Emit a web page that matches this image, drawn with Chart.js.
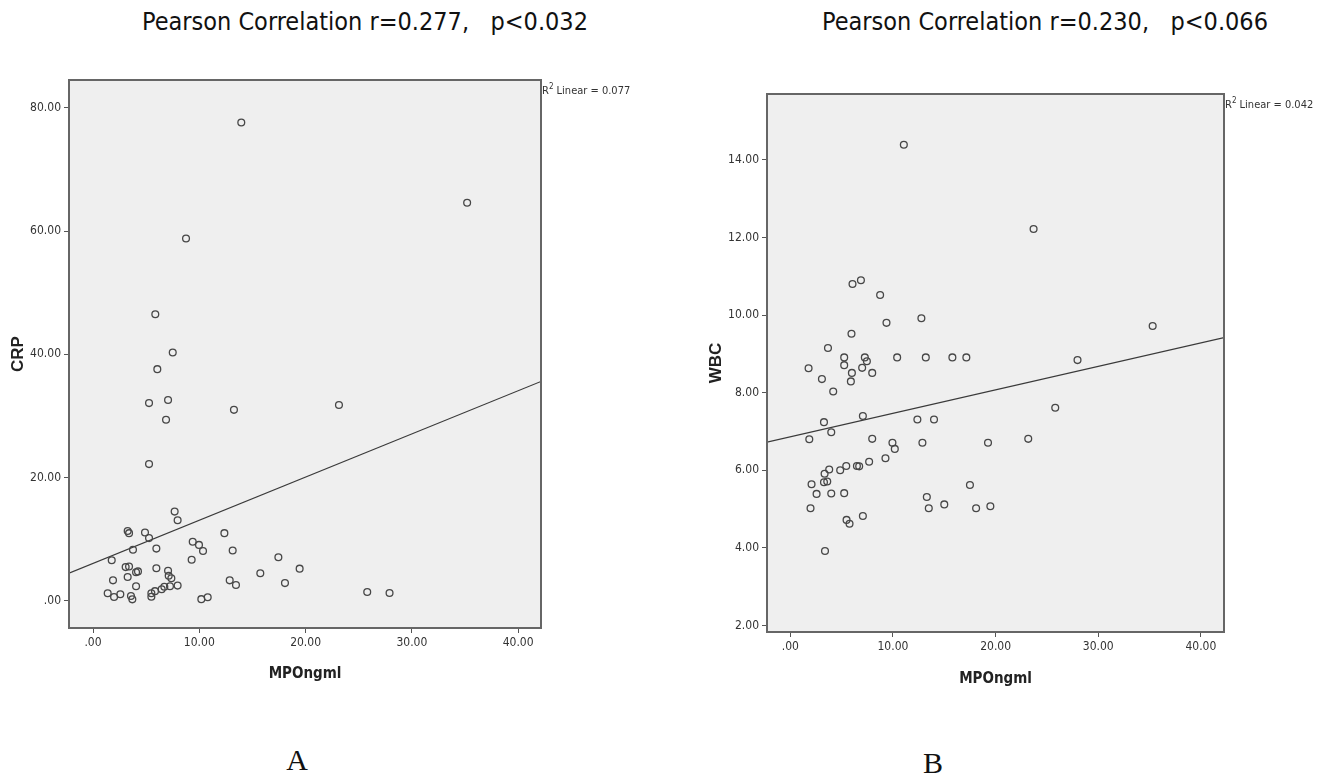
<!DOCTYPE html>
<html>
<head>
<meta charset="utf-8">
<script src="https://cdn.jsdelivr.net/npm/chart.js@4.4.1/dist/chart.umd.min.js"></script>
<style>
body{margin:0;background:#fff;width:1318px;height:774px;position:relative;overflow:hidden}
canvas{position:absolute;top:0}
.ttl{position:absolute;top:7px;width:700px;text-align:center;font-family:"Liberation Sans Narrow","DejaVu Sans Condensed",sans-serif;font-size:25px;line-height:30px;white-space:pre;color:#111}
.lbl{position:absolute;width:100px;text-align:center;font-family:"Liberation Serif",serif;font-size:30px;line-height:34px;color:#111}
</style>
</head>
<body>
<div class="ttl" style="left:15px">Pearson Correlation r=0.277,   p&lt;0.032</div>
<div class="ttl" style="left:695px">Pearson Correlation r=0.230,   p&lt;0.066</div>
<canvas id="chartA" width="660" height="700" style="left:0"></canvas>
<canvas id="chartB" width="658" height="700" style="left:660px"></canvas>
<div class="lbl" style="left:247px;top:743px">A</div>
<div class="lbl" style="left:883px;top:746px">B</div>
<script>
// A: MPO vs CRP
const mpoA = [13.95, 8.75, 5.86, 7.5, 6.05, 5.27, 7.06, 6.87, 13.26, 23.14,
  5.27, 7.68, 7.96, 3.26, 3.39, 4.89, 5.27, 12.36, 9.38, 9.97,
  10.35, 3.76, 5.96, 13.14, 1.76, 9.28, 17.44, 3.07, 3.39, 5.96,
  19.44, 4.05, 4.23, 7.06, 3.26, 7.12, 7.37, 15.74, 1.88, 12.86,
  4.05, 7.24, 7.96, 13.45, 18.06, 6.71, 6.46, 5.83, 5.49, 5.49,
  1.38, 2.57, 1.98, 3.57, 3.70, 10.19, 10.79, 35.2, 25.8, 27.9];
const crp = [77.6, 58.8, 46.5, 40.3, 37.6, 32.1, 32.6, 29.4, 31.0, 31.8,
  22.2, 14.5, 13.1, 11.35, 11.0, 11.1, 10.2, 11.0, 9.6, 9.1,
  8.1, 8.3, 8.5, 8.2, 6.6, 6.7, 7.1, 5.5, 5.6, 5.3,
  5.25, 4.65, 4.8, 4.9, 3.9, 4.1, 3.7, 4.5, 3.35, 3.35,
  2.4, 2.4, 2.5, 2.6, 2.9, 2.3, 1.9, 1.6, 1.25, 0.7,
  1.25, 1.1, 0.65, 0.8, 0.27, 0.3, 0.6, 64.6, 1.46, 1.3];

// B: MPO vs WBC
const mpoB = [11.06, 6.06, 6.88, 8.75, 12.77, 9.37, 5.96, 3.67, 5.25, 7.26,
  10.41, 13.2, 15.79, 17.15, 7.46, 1.78, 5.25, 7.0, 6.0, 7.98,
  3.08, 5.9, 4.18, 7.07, 12.38, 14.0, 3.28, 3.99, 1.85, 7.98,
  9.95, 12.87, 19.26, 10.18, 9.27, 7.68, 6.49, 6.71, 5.45, 4.86,
  3.79, 3.34, 3.28, 3.6, 2.07, 2.56, 3.99, 5.25, 13.3, 17.5,
  1.97, 13.49, 15.0, 18.1, 19.49, 5.48, 5.77, 7.07, 3.38, 23.7,
  35.3, 27.98, 25.81, 23.18];
const wbc = [14.39, 10.80, 10.90, 10.52, 9.92, 9.80, 9.52, 9.15, 8.91, 8.91,
  8.91, 8.91, 8.91, 8.91, 8.81, 8.63, 8.71, 8.64, 8.51, 8.51,
  8.35, 8.29, 8.03, 7.40, 7.31, 7.31, 7.24, 6.98, 6.80, 6.81,
  6.71, 6.71, 6.71, 6.55, 6.31, 6.22, 6.11, 6.10, 6.11, 6.0,
  6.02, 5.91, 5.69, 5.71, 5.64, 5.39, 5.40, 5.41, 5.31, 5.62,
  5.02, 5.02, 5.12, 5.02, 5.07, 4.72, 4.62, 4.82, 3.92, 12.22,
  9.72, 8.84, 7.61, 6.81];

const xTicks = [0, 10, 20, 30, 40];
const crpTicks = [0, 20, 40, 60, 80];
const wbcTicks = [2, 4, 6, 8, 10, 12, 14];

// linear fit lines [intercept, slope] as drawn
const fitA = [6.1, 0.70];
const fitB = [6.86, 0.0606];

const narrow = '"Liberation Sans Narrow", "DejaVu Sans Condensed", sans-serif';

function fmt(v) {
    return v === 0 ? '.00' : v.toFixed(2);
}

// grey plot background, frame and the R2 note
const framePlugin = {
    id: 'frame',
    beforeDraw(chart) {
        const a = chart.chartArea, c = chart.ctx;
        c.save();
        c.fillStyle = '#efefef';
        c.fillRect(a.left, a.top, a.right - a.left, a.bottom - a.top);
        c.restore();
    },
    afterDraw(chart, args, opts) {
        const a = chart.chartArea, c = chart.ctx;
        c.save();
        c.strokeStyle = '#666';
        c.lineWidth = 2;
        c.strokeRect(a.left, a.top, a.right - a.left, a.bottom - a.top);
        c.fillStyle = '#333';
        let x = a.right + 1, y = a.top + 14;
        c.font = '11px ' + narrow;
        c.fillText('R', x, y);
        x += c.measureText('R').width;
        c.font = '8px ' + narrow;
        c.fillText('2', x, y - 5);
        x += c.measureText('2').width;
        c.font = '11px ' + narrow;
        c.fillText(' Linear = ' + opts.r2, x, y);
        c.restore();
    }
};

function scatter(id, xs, ys, yTicks, fit, yName, box) {
    const pts = xs.map((x, i) => ({x: x, y: ys[i]}));
    const line = [box.xMin, box.xMax].map(x => ({x: x, y: fit[0] + fit[1] * x}));
    return new Chart(document.getElementById(id), {
        type: 'scatter',
        data: {
            datasets: [
                {data: pts, pointRadius: 3.4, pointHoverRadius: 3.4, pointBorderWidth: 1.3,
                    borderColor: '#474747', backgroundColor: 'rgba(0,0,0,0)'},
                {type: 'line', data: line, borderColor: '#3a3a3a', borderWidth: 1.2,
                    pointRadius: 0, fill: false}
            ]
        },
        options: {
            responsive: false,
            animation: false,
            layout: {padding: {top: box.top, right: box.right, left: 0, bottom: 0}},
            plugins: {legend: {display: false}, tooltip: {enabled: false}, frame: {r2: box.r2}},
            scales: {
                x: {
                    type: 'linear', min: box.xMin, max: box.xMax,
                    afterBuildTicks: s => { s.ticks = xTicks.map(v => ({value: v})); },
                    afterFit: s => { s.height = box.xH; },
                    ticks: {callback: fmt, font: {family: narrow, size: 12}, color: '#333',
                        padding: 3, maxRotation: 0, autoSkip: false},
                    grid: {drawOnChartArea: false, tickLength: 5, color: '#555'},
                    border: {display: false},
                    title: {display: true, text: 'MPOngml', color: '#222',
                        font: {family: narrow, size: 15, weight: 'bold'},
                        padding: {top: 0, bottom: box.xPad}}
                },
                y: {
                    type: 'linear', min: box.yMin, max: box.yMax,
                    afterBuildTicks: s => { s.ticks = yTicks.map(v => ({value: v})); },
                    afterFit: s => { s.width = box.yW; },
                    ticks: {callback: fmt, font: {family: narrow, size: 12}, color: '#333', padding: 3},
                    grid: {drawOnChartArea: false, tickLength: 5, color: '#555'},
                    border: {display: false},
                    title: {display: true, text: yName, color: '#222',
                        font: {family: '"Liberation Sans", Arial, sans-serif', size: 17, weight: 'bold'},
                        padding: {top: box.yPad, bottom: 0}}
                }
            }
        },
        plugins: [framePlugin]
    });
}

window.onload = function () {
    scatter('chartA', mpoA, crp, crpTicks, fitA, 'CRP',
        {xMin: -2.26, xMax: 42.15, yMin: -4.38, yMax: 84.5, top: 80, right: 119,
            yW: 69, xH: 72, xPad: 17, yPad: 8, r2: '0.077'});
    scatter('chartB', mpoB, wbc, wbcTicks, fitB, 'WBC',
        {xMin: -2.27, xMax: 42.25, yMin: 1.83, yMax: 15.70, top: 94, right: 94,
            yW: 107, xH: 68, xPad: 12, yPad: 46.5, r2: '0.042'});
};
</script>
</body>
</html>
